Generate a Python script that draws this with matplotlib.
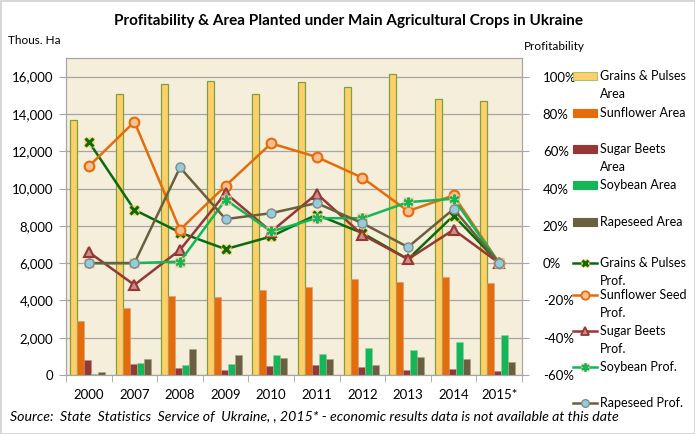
import matplotlib
matplotlib.use("Agg")
import matplotlib.pyplot as plt
from matplotlib.patches import Rectangle
from matplotlib.ticker import FuncFormatter
import numpy as np

plt.rcParams['font.family'] = ['Lato', 'DejaVu Sans']

# data
years = ['2000', '2007', '2008', '2009', '2010', '2011', '2012', '2013', '2014', '2015*']

# area planted, thousand ha
grains_area = [13650, 15070, 15600, 15780, 15070, 15720, 15430, 16160, 14780, 14710]
sunflower_area = [2900, 3580, 4260, 4190, 4550, 4710, 5150, 5010, 5230, 4940]
sugar_area = [820, 590, 360, 285, 480, 537, 413, 270, 306, 215]
soybean_area = [70, 644, 537, 607, 1058, 1111, 1433, 1342, 1772, 2130]
rapeseed_area = [160, 860, 1380, 1058, 897, 880, 555, 985, 860, 680]

# profitability, %
grains_prof = [65.1, 28.6, 16.4, 7.5, 14.3, 26.0, 16.1, 2.1, 25.5, 0]
sunflower_prof = [51.9, 75.8, 17.9, 41.5, 64.2, 56.9, 45.8, 27.9, 36.3, 0]
sugar_prof = [5.9, -11.7, 7.1, 37.5, 16.9, 37.2, 15.2, 2.1, 17.9, 0]
soybean_prof = [0, 0, 0.8, 34.0, 17.0, 24.1, 24.1, 32.7, 34.5, 0]
rapeseed_prof = [0, 0, 51.3, 23.6, 26.8, 32.2, 21.4, 8.6, 29.0, 0]

# colours
c_grains = '#FFCF6A'
c_sunflower = '#E46C0A'
c_sugar = '#953735'
c_soybean = '#13B757'
c_rapeseed = '#6A603F'
c_grains_line = '#0B6B0B'
c_peach = '#FAC090'
c_blue = '#93CDDD'
c_pink = '#D08C8A'

W, H = 695, 434
fig = plt.figure(figsize=(W / 100, H / 100), dpi=100)

ax = fig.add_axes([66 / W, 1 - 375 / H, (522 - 66) / W, (375 - 58) / H])
ax.set_facecolor('#F5EEDA')
x = np.arange(len(years))
bw = 0.153

bar_series = [
    (grains_area, c_grains, '#7EA040', 0.9),
    (sunflower_area, c_sunflower, '#C9A27E', 0.4),
    (sugar_area, c_sugar, '#B08A88', 0.4),
    (soybean_area, c_soybean, '#9CC9A8', 0.4),
    (rapeseed_area, c_rapeseed, '#A8A08A', 0.4),
]
for k, (vals, fc, ec, lw) in enumerate(bar_series):
    ax.bar(x - 0.335 + k * bw, vals, width=bw, color=fc, edgecolor=ec,
           linewidth=lw, zorder=3)

ax.set_xlim(-0.5, len(years) - 0.5)
ax.set_ylim(0, 17000)
ax.set_yticks(np.arange(0, 16001, 2000))
ax.yaxis.set_major_formatter(FuncFormatter(lambda v, p: f'{int(v):,}'))
ax.grid(axis='y', color='#A6A6A6', linewidth=0.9, zorder=0)
ax.set_axisbelow(True)
ax.set_xticks(x)
ax.set_xticklabels(years)
ax.set_xticks(np.arange(-0.5, len(years), 1), minor=True)
ax.tick_params(axis='x', which='major', length=0, pad=10, labelsize=9.5)
ax.tick_params(axis='x', which='minor', length=5, color='#A6A6A6', direction='out')
ax.tick_params(axis='y', length=5, color='#A6A6A6', labelsize=9.5, pad=4)
for sp in ax.spines.values():
    sp.set_color('#A6A6A6')

ax2 = ax.twinx()
ax2.set_ylim(-60, 110)
ax2.set_yticks(np.arange(-60, 101, 20))
ax2.yaxis.set_major_formatter(FuncFormatter(lambda v, p: f'{int(v)}%'))
ax2.tick_params(axis='y', length=5, color='#A6A6A6', labelsize=9.5, pad=10)
for sp in ax2.spines.values():
    sp.set_color('#A6A6A6')

# profitability lines
ax2.plot(x, grains_prof, color=c_grains_line, lw=1.8, zorder=4)
ax2.plot(x, grains_prof, ls='none', marker='s', ms=6.5, mfc=c_grains, mec='none', zorder=4)
ax2.plot(x, grains_prof, ls='none', marker='x', ms=5.5, mew=2.2, color=c_grains_line, zorder=4)
ax2.plot(x, sunflower_prof, color=c_sunflower, lw=1.8, marker='o', ms=7,
         mfc=c_peach, mec=c_sunflower, mew=1.5, zorder=5)
ax2.plot(x, sugar_prof, color=c_sugar, lw=1.8, marker='^', ms=7,
         mfc=c_pink, mec=c_sugar, mew=1.5, zorder=6)
ax2.plot(x, soybean_prof, color=c_soybean, lw=1.8, zorder=7)
ax2.plot(x, soybean_prof, ls='none', marker='s', ms=6.5, mfc=c_peach, mec='none', zorder=7)
ax2.plot(x, soybean_prof, ls='none', marker=(6, 2, 0), ms=7, mew=1.5, color=c_soybean, zorder=7)
ax2.plot(x, rapeseed_prof, color=c_rapeseed, lw=1.8, marker='o', ms=6.5,
         mfc=c_blue, mec='#7F8C8C', mew=1.0, zorder=8)

# overlay in pixel coordinates for texts and the legend
ov = fig.add_axes([0, 0, 1, 1], zorder=10)
ov.set_xlim(0, W)
ov.set_ylim(H, 0)
ov.axis('off')
ov.add_patch(Rectangle((0.5, 0.5), W - 1, H - 1, fill=False, ec='#D0D0D0', lw=1.2))

ov.text(348, 21, 'Profitability & Area Planted under Main Agricultural Crops in Ukraine',
        ha='center', va='center', fontsize=11, fontweight='bold')
ov.text(8, 40, 'Thous. Ha', ha='left', va='center', fontsize=8.5)
ov.text(524, 46, 'Profitability', ha='left', va='center', fontsize=8.5)
ov.text(10, 416, 'Source:  State  Statistics  Service of  Ukraine, , 2015* - economic results '
        'data is not available at this date', ha='left', va='center', fontsize=10.2,
        style='italic')

fs_leg = 9
hx0, hx1, tx = 573, 597, 600
bar_leg = [
    (76, 'Grains & Pulses', 'Area', c_grains, '#A9C46A'),
    (113, 'Sunflower Area', None, c_sunflower, c_sunflower),
    (149, 'Sugar Beets', 'Area', c_sugar, c_sugar),
    (185, 'Soybean Area', None, c_soybean, c_soybean),
    (222, 'Rapeseed Area', None, c_rapeseed, c_rapeseed),
]
for yy, l1, l2, fc, ec in bar_leg:
    ov.add_patch(Rectangle((hx0, yy - 4), hx1 - hx0, 8, fc=fc, ec=ec, lw=0.8))
    ov.text(tx, yy, l1, ha='left', va='center', fontsize=fs_leg)
    if l2:
        ov.text(tx, yy + 18, l2, ha='left', va='center', fontsize=fs_leg)

xm = (hx0 + hx1) / 2
line_leg = [
    (263, 'Grains & Pulses', 'Prof.'),
    (295, 'Sunflower Seed', 'Prof.'),
    (331, 'Sugar Beets', 'Prof.'),
    (367, 'Soybean Prof.', None),
    (403, 'Rapeseed Prof.', None),
]
for yy, l1, l2 in line_leg:
    ov.text(tx, yy, l1, ha='left', va='center', fontsize=fs_leg)
    if l2:
        ov.text(tx, yy + 18, l2, ha='left', va='center', fontsize=fs_leg)

y0 = line_leg[0][0]
ov.plot([hx0, hx1], [y0, y0], color=c_grains_line, lw=1.8)
ov.plot([xm], [y0], marker='s', ms=5.5, mfc=c_grains, mec='none')
ov.plot([xm], [y0], marker='x', ms=4.5, mew=2, color=c_grains_line)
y1 = line_leg[1][0]
ov.plot([hx0, hx1], [y1, y1], color=c_sunflower, lw=1.8)
ov.plot([xm], [y1], marker='o', ms=6, mfc=c_peach, mec=c_sunflower, mew=1.3)
y2 = line_leg[2][0]
ov.plot([hx0, hx1], [y2, y2], color=c_sugar, lw=1.8)
ov.plot([xm], [y2], marker='^', ms=6, mfc=c_pink, mec=c_sugar, mew=1.3)
y3 = line_leg[3][0]
ov.plot([hx0, hx1], [y3, y3], color=c_soybean, lw=1.8)
ov.plot([xm], [y3], marker='s', ms=5.5, mfc=c_peach, mec='none')
ov.plot([xm], [y3], marker=(6, 2, 0), ms=6, mew=1.3, color=c_soybean)
y4 = line_leg[4][0]
ov.plot([hx0, hx1], [y4, y4], color=c_rapeseed, lw=1.8)
ov.plot([xm], [y4], marker='o', ms=5.5, mfc=c_blue, mec='#7F8C8C', mew=1.0)

fig.savefig('out.png', dpi=100)
